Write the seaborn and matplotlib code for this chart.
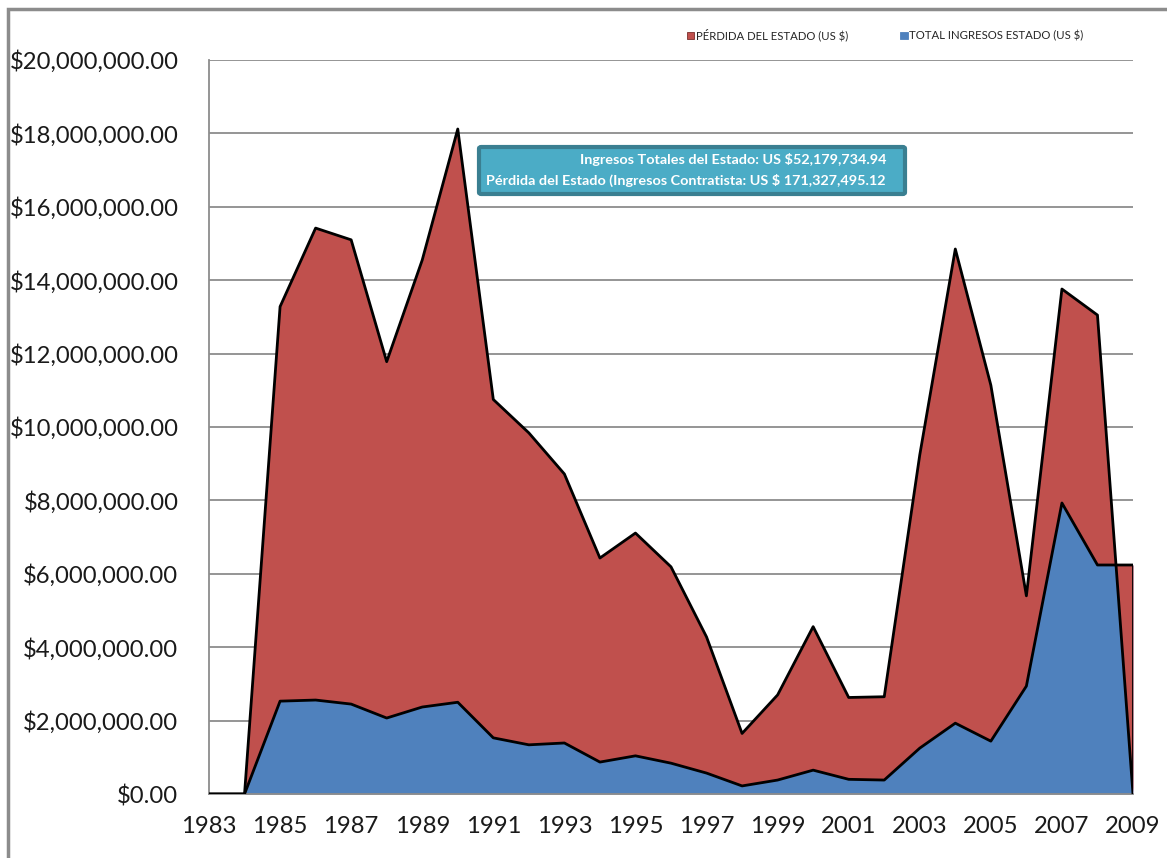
import matplotlib
matplotlib.use("Agg")
import matplotlib.pyplot as plt
import matplotlib.ticker as mticker
from matplotlib.patches import Patch, Rectangle, FancyBboxPatch
import seaborn as sns
import pandas as pd

# ---- data ----
years = list(range(1983, 2010))
total_line = [0, 0, 13.28e6, 15.42e6, 15.10e6, 11.78e6, 14.55e6, 18.12e6, 10.75e6,
              9.84e6, 8.72e6, 6.43e6, 7.11e6, 6.19e6, 4.28e6, 1.65e6, 2.70e6,
              4.56e6, 2.63e6, 2.65e6, 9.24e6, 14.85e6, 11.14e6, 5.40e6, 13.76e6,
              13.05e6, 0]
ingresos = [0, 0, 2.53e6, 2.56e6, 2.45e6, 2.07e6, 2.37e6, 2.50e6, 1.53e6,
            1.34e6, 1.39e6, 0.87e6, 1.04e6, 0.84e6, 0.57e6, 0.22e6, 0.38e6,
            0.65e6, 0.40e6, 0.38e6, 1.25e6, 1.93e6, 1.44e6, 2.94e6, 7.93e6,
            6.24e6, 6.24e6]
legend_labels = ["PÉRDIDA DEL ESTADO (US $)", "TOTAL INGRESOS ESTADO (US $)"]
note_lines = ["Ingresos Totales del Estado: US $52,179,734.94",
              "Pérdida del Estado (Ingresos Contratista: US $ 171,327,495.12"]
xticks = list(range(1983, 2010, 2))
yticks = list(range(0, 20000001, 2000000))

df = pd.DataFrame({"year": years, "total": total_line, "ingresos": ingresos})

RED = "#C0504D"
BLUE = "#4F81BD"
GRID = "#8C8C8C"

sns.set_style("white")
plt.rcParams["font.family"] = ["Lato", "DejaVu Sans"]

W, H = 1167, 858
fig = plt.figure(figsize=(W / 100, H / 100), dpi=100)
ax = fig.add_axes([209 / W, 1 - 794 / H, (1133 - 209) / W, (794 - 60) / H])

# filled areas
ax.fill_between(df["year"], 0, df["ingresos"], color=BLUE, linewidth=0, zorder=2)
ax.fill_between(df["year"], df["ingresos"], df["total"], color=RED, linewidth=0, zorder=3)

# outlines
sns.lineplot(data=df, x="year", y="ingresos", color="black", linewidth=2, ax=ax, zorder=4)
sns.lineplot(data=df, x="year", y="total", color="black", linewidth=2, ax=ax, zorder=5)
ax.plot([years[-1], years[-1]], [ingresos[-1], 0], color="black", linewidth=2, zorder=5)

ax.set_xlim(1983, 2009)
ax.set_ylim(0, 20000000)
ax.set_xticks(xticks)
ax.set_yticks(yticks)
ax.yaxis.set_major_formatter(mticker.FuncFormatter(lambda v, p: f"${v:,.2f}"))
ax.set_xlabel("")
ax.set_ylabel("")

ax.grid(axis="y", color=GRID, linewidth=1.3, zorder=0)
ax.set_axisbelow(True)
for s in ["top", "right"]:
    ax.spines[s].set_visible(False)
for s in ["left", "bottom"]:
    ax.spines[s].set_color(GRID)
    ax.spines[s].set_linewidth(1.3)
ax.tick_params(axis="both", which="major", direction="out", length=7, width=1.3,
               color=GRID, labelsize=17.2, labelcolor="#1a1a1a")
ax.tick_params(axis="y", pad=15)
ax.tick_params(axis="x", pad=9)
ax.set_facecolor("white")

# legend
handles = [Patch(facecolor=RED, edgecolor="#7a2e2c", linewidth=0.6),
           Patch(facecolor=BLUE, edgecolor=BLUE, linewidth=0.6)]
fig.legend(handles, legend_labels, loc="center left",
           bbox_to_anchor=(687 / W, 1 - 35 / H), ncol=2, frameon=False,
           fontsize=8.2, handlelength=0.65, handleheight=0.65,
           handletextpad=0.12, columnspacing=4.6, borderaxespad=0, borderpad=0)

# annotation box
box = FancyBboxPatch((479 / W, 1 - 194 / H), (905 - 479) / W, (194 - 147) / H,
                     boxstyle="round,pad=0,rounding_size=0.002",
                     transform=fig.transFigure, facecolor="#4BACC6",
                     edgecolor="#3A7F91", linewidth=3, zorder=10)
fig.patches.append(box)
fig.text(886 / W, 1 - 159 / H, note_lines[0], ha="right", va="center",
         color="white", fontsize=10.4, fontweight="bold", zorder=11)
fig.text(886 / W, 1 - 180 / H, note_lines[1], ha="right", va="center",
         color="white", fontsize=10.4, fontweight="bold", zorder=11)

# outer chart frame
frame = Rectangle((7.5 / W, -0.05), 1.2, 1 - 8.5 / H + 0.05, transform=fig.transFigure,
                  fill=False, edgecolor="#8C8C8C", linewidth=2.5, zorder=0)
fig.patches.append(frame)

fig.savefig("out.png", dpi=100)
